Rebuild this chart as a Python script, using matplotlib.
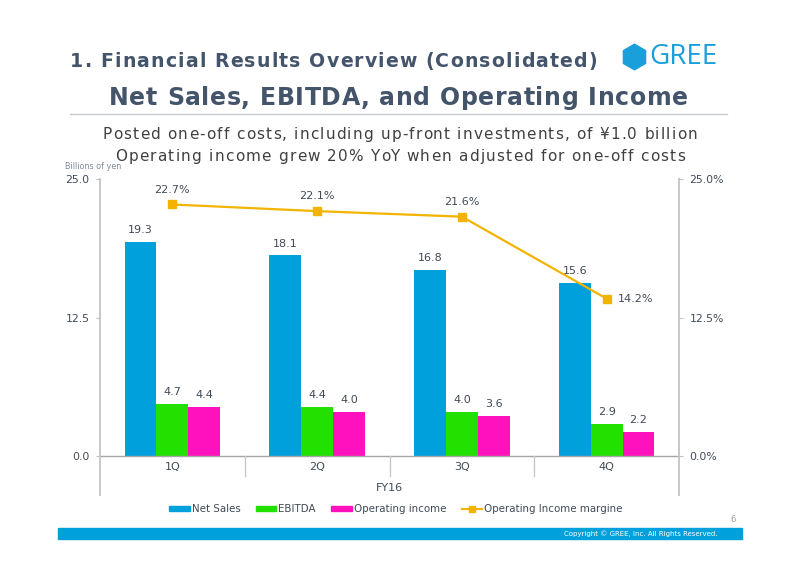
import matplotlib
matplotlib.use("Agg")
import matplotlib.pyplot as plt
from matplotlib.patches import Patch, Polygon, Rectangle
from matplotlib.lines import Line2D
from matplotlib.font_manager import FontProperties
import math

categories = ["1Q", "2Q", "3Q", "4Q"]
group_label = "FY16"
net_sales = [19.3, 18.1, 16.8, 15.6]
ebitda = [4.7, 4.4, 4.0, 2.9]
op_income = [4.4, 4.0, 3.6, 2.2]
op_margin = [22.7, 22.1, 21.6, 14.2]
left_ticks = [0.0, 12.5, 25.0]
right_ticks = [0.0, 12.5, 25.0]

c_sales = "#00a0dc"
c_ebitda = "#22e000"
c_op = "#ff12be"
c_line = "#f2b400"
c_text = "#44546a"
c_lab = "#404a56"

W, H = 800, 565
fig = plt.figure(figsize=(8, 5.65), dpi=100)

def fx(px):
    return px / W

def fy(py):
    return 1 - py / H

ax_l, ax_r, ax_t, ax_b = 100, 679, 179, 456
ax = fig.add_axes([fx(ax_l), fy(ax_b), fx(ax_r - ax_l), (ax_b - ax_t) / H])
ax2 = ax.twinx()

x = list(range(len(categories)))
bw = 0.22
b1 = ax.bar([i - bw for i in x], net_sales, bw, color=c_sales, label="Net Sales")
b2 = ax.bar(x, ebitda, bw, color=c_ebitda, label="EBITDA")
b3 = ax.bar([i + bw for i in x], op_income, bw, color=c_op, label="Operating income")
for bars, vals in ((b1, net_sales), (b2, ebitda), (b3, op_income)):
    for r, v in zip(bars, vals):
        ax.annotate(f"{v:.1f}", (r.get_x() + r.get_width() / 2, v), xytext=(0, 5),
                    textcoords="offset points", ha="center", va="bottom",
                    fontsize=8, color=c_lab)

ax.set_xlim(-0.5, len(categories) - 0.5)
ax.set_ylim(0, 25)
ax2.set_ylim(0, 25)
ax.set_yticks(left_ticks)
ax.set_yticklabels([f"{t:.1f}" for t in left_ticks])
ax2.set_yticks(right_ticks)
ax2.set_yticklabels([f"{t:.1f}%" for t in right_ticks])
for a in (ax, ax2):
    a.tick_params(axis="y", length=3, width=0.8, color="#bfbfbf", labelsize=7.8,
                  labelcolor=c_lab, pad=4.5)
    for s in a.spines.values():
        s.set_visible(False)
ax.set_xticks([])

ln, = ax2.plot(x, op_margin, color=c_line, lw=1.6, marker="s", ms=6,
               label="Operating Income margine")
for i, v in enumerate(op_margin):
    if i == len(op_margin) - 1:
        ax2.annotate(f"{v:.1f}%", (i, v), xytext=(8, 0), textcoords="offset points",
                     ha="left", va="center", fontsize=8, color=c_lab)
    else:
        ax2.annotate(f"{v:.1f}%", (i, v), xytext=(0, 7), textcoords="offset points",
                     ha="center", va="bottom", fontsize=8, color=c_lab)

# axis lines (multi-level category axis)
ph = ax_b - ax_t
xt = ax.get_xaxis_transform()
ax.plot([-0.5, 3.5], [0, 0], transform=xt, color="#a6a6a6", lw=1.0, clip_on=False)
for xb in [-0.5, 3.5]:
    ax.plot([xb, xb], [1.0, -39 / ph], transform=xt, color="#c8c8c8", lw=1.4, clip_on=False)
for xb in [0.5, 1.5, 2.5]:
    ax.plot([xb, xb], [0, -20 / ph], transform=xt, color="#c8c8c8", lw=1.0, clip_on=False)
for i, c in enumerate(categories):
    ax.text(i, -11 / ph, c, transform=xt, ha="center", va="center", fontsize=8, color=c_lab)
ax.text(1.5, -32 / ph, group_label, transform=xt, ha="center", va="center", fontsize=8, color=c_lab)

fig.text(fx(65), fy(167), "Billions of yen", fontsize=5.8, color="#7f8a99",
         ha="left", va="center")

# legend
handles = [Patch(color=c_sales), Patch(color=c_ebitda), Patch(color=c_op),
           Line2D([], [], color=c_line, marker="s", ms=5, lw=1.6)]
labels = ["Net Sales", "EBITDA", "Operating income", "Operating Income margine"]
fig.legend(handles, labels, loc="center", bbox_to_anchor=(fx(396), fy(509)), ncol=4,
           frameon=False, fontsize=7.4, handlelength=2.0, handleheight=0.45,
           handletextpad=0.2, columnspacing=1.5, labelcolor=c_lab)

# tracked (letter-spaced) text
renderer = fig.canvas.get_renderer()

def tracked(s, x_left, x_right, baseline, size, weight, color):
    fp = FontProperties(family="DejaVu Sans", size=size, weight=weight)
    bar = renderer.get_text_width_height_descent("|", fp, ismath=False)[0]

    def w(t):
        if not t:
            return 0.0
        return renderer.get_text_width_height_descent(t + "|", fp, ismath=False)[0] - bar

    sp = (x_right - x_left - w(s)) / (len(s) - 1)
    for i, ch in enumerate(s):
        if ch == " ":
            continue
        fig.text(fx(x_left + w(s[:i]) + i * sp), fy(baseline), ch, fontproperties=fp,
                 color=color, ha="left", va="baseline")

tracked("1. Financial Results Overview (Consolidated)", 70, 597, 67, 13.6, "bold", c_text)
tracked("Net Sales, EBITDA, and Operating Income", 109, 688, 105, 17.0, "bold", c_text)
fig.add_artist(Line2D([fx(70), fx(727)], [fy(114), fy(114)], color="#c8ccd2", lw=1.0))
tracked("Posted one-off costs, including up-front investments, of \u00a51.0 billion",
        103, 697, 139, 11, "normal", "#404040")
tracked("Operating income grew 20% YoY when adjusted for one-off costs",
        115, 685, 161, 11, "normal", "#404040")

# logo
cx, cy, rad = 634.5, 57, 12.8
verts = [(fx(cx + rad * math.cos(math.radians(90 + 60 * k))),
          fy(cy - rad * math.sin(math.radians(90 + 60 * k)))) for k in range(6)]
fig.add_artist(Polygon(verts, closed=True, color="#1a9fdb", transform=fig.transFigure))
fig.text(fx(649), fy(57), "GREE", fontsize=20, color="#1a9fdb", family="Open Sans",
         ha="left", va="center")

# footer
fig.text(fx(733), fy(520), "6", fontsize=6, color="#9a9a9a", ha="center", va="center")
fig.add_artist(Rectangle((fx(58), fy(539)), fx(742 - 58), (539 - 528) / H,
                         color="#00a0dc", transform=fig.transFigure))
fig.text(fx(717), fy(533.5), "Copyright \u00a9 GREE, Inc. All Rights Reserved.", fontsize=5,
         color="white", ha="right", va="center")

fig.savefig("out.png", dpi=100)
